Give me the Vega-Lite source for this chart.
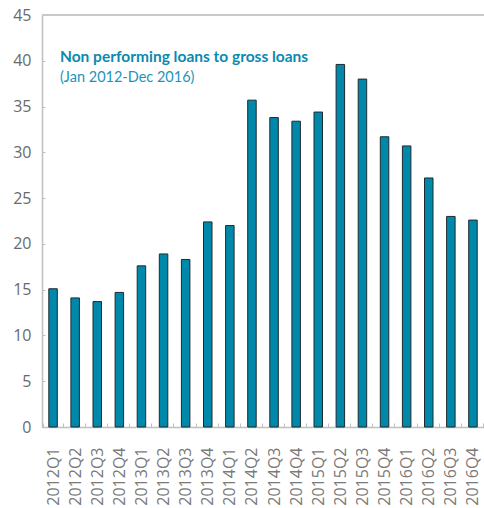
{
  "$schema": "https://vega.github.io/schema/vega-lite/v6.json",
  "width": 442,
  "height": 412,
  "autosize": "none",
  "padding": {"left": 42, "top": 15, "right": 0, "bottom": 81},
  "title": {
    "text": "Non performing loans to gross loans",
    "subtitle": "(Jan 2012-Dec 2016)",
    "anchor": "start",
    "frame": "group",
    "orient": "top",
    "offset": -77,
    "dx": 18,
    "font": "Lato",
    "fontSize": 15.5,
    "fontWeight": "bold",
    "color": "#0a8ab0",
    "subtitleFont": "Lato",
    "subtitleFontSize": 14.5,
    "subtitleFontWeight": "normal",
    "subtitleColor": "#1a95bb",
    "subtitlePadding": 5
  },
  "data": {
    "values": [
      {"q": "2012Q1", "v": 15.1},
      {"q": "2012Q2", "v": 14.1},
      {"q": "2012Q3", "v": 13.7},
      {"q": "2012Q4", "v": 14.7},
      {"q": "2013Q1", "v": 17.6},
      {"q": "2013Q2", "v": 18.9},
      {"q": "2013Q3", "v": 18.3},
      {"q": "2013Q4", "v": 22.4},
      {"q": "2014Q1", "v": 22.0},
      {"q": "2014Q2", "v": 35.7},
      {"q": "2014Q3", "v": 33.8},
      {"q": "2014Q4", "v": 33.4},
      {"q": "2015Q1", "v": 34.4},
      {"q": "2015Q2", "v": 39.6},
      {"q": "2015Q3", "v": 38.0},
      {"q": "2015Q4", "v": 31.7},
      {"q": "2016Q1", "v": 30.7},
      {"q": "2016Q2", "v": 27.2},
      {"q": "2016Q3", "v": 23.0},
      {"q": "2016Q4", "v": 22.6}
    ]
  },
  "layer": [
    {
      "mark": {"type": "bar", "size": 8.5, "fill": "#0088aa", "stroke": "#1f2a2e", "strokeWidth": 1},
      "encoding": {
        "x": {
          "field": "q",
          "type": "ordinal",
          "sort": null,
          "title": null,
          "axis": {
            "labelAngle": -90,
            "labelFont": "Open Sans",
            "labelFontSize": 16,
            "labelColor": "#7a7a7a",
            "labelPadding": 24,
            "domainColor": "#bfbfbf",
            "domainWidth": 1.5,
            "tickColor": "#bfbfbf",
            "tickSize": -4,
            "tickBand": "extent",
            "grid": false
          }
        },
        "y": {
          "field": "v",
          "type": "quantitative",
          "scale": {"domain": [0, 45]},
          "title": null,
          "axis": {
            "values": [0, 5, 10, 15, 20, 25, 30, 35, 40, 45],
            "labelFont": "Open Sans",
            "labelFontSize": 16,
            "labelColor": "#6a6a6a",
            "labelPadding": 14,
            "domainColor": "#bfbfbf",
            "domainWidth": 1.5,
            "tickColor": "#bfbfbf",
            "tickSize": -3,
            "grid": false
          }
        }
      }
    },
    {
      "mark": {"type": "rule", "color": "#c8c8c8", "strokeWidth": 1.5},
      "encoding": {"y": {"datum": 45}}
    }
  ],
  "config": {"view": {"stroke": null}}
}
